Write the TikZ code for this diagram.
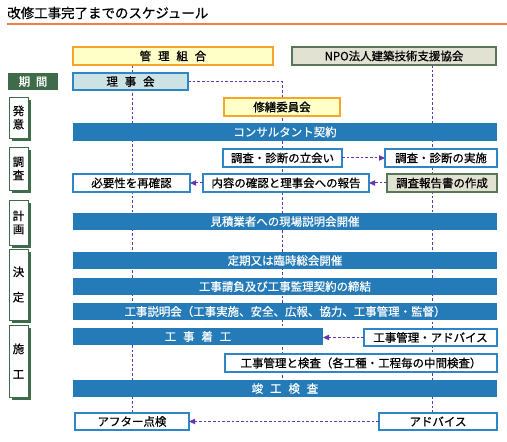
\documentclass[tikz,border=0pt]{standalone}
\usepackage{fontspec}
\setmainfont{Noto Sans CJK JP}
\newfontfamily\medfont[FakeBold=0.6]{Noto Sans CJK JP}
\newfontfamily\hvyfont[FakeBold=1.1]{Noto Sans CJK JP}
\usetikzlibrary{arrows.meta,backgrounds,shadows}
\definecolor{barblue}{RGB}{36,123,184}
\definecolor{edgeblue}{RGB}{47,134,198}
\definecolor{ylwfill}{RGB}{255,255,200}
\definecolor{orgedge}{RGB}{245,166,40}
\definecolor{npofill}{RGB}{226,226,210}
\definecolor{npoedge}{RGB}{88,118,88}
\definecolor{pgreen}{RGB}{62,107,74}
\definecolor{rijifill}{RGB}{205,227,227}
\definecolor{dpurple}{RGB}{100,55,175}
\definecolor{titleline}{RGB}{240,128,64}
\newcommand\bx[7]{\node[#6, minimum width={(#4-#2)*0.75pt}, minimum height={(#5-#3)*0.75pt}] (#1) at ({(#2+#4)/2},{(#3+#5)/2}) {#7};}
\tikzset{
  base/.style={inner sep=0pt, outer sep=0pt, font=\fontsize{8.6}{10}\selectfont\medfont},
  yellowbox/.style={base, draw=orgedge, fill=ylwfill, line width=1pt},
  npobox/.style={base, draw=npoedge, fill=npofill, line width=1pt},
  rijibox/.style={base, draw=edgeblue, fill=rijifill, line width=1pt},
  kikanbox/.style={base, fill=pgreen, text=white},
  bar/.style={base, fill=barblue, text=white},
  wbox/.style={base, draw=edgeblue, fill=white, line width=1pt},
  phase/.style={base, draw=pgreen, fill=white, line width=0.6pt, align=center,
    drop shadow={shadow xshift=2.2pt, shadow yshift=-2.2pt, fill=pgreen, opacity=1}},
  dline/.style={draw=dpurple, dash pattern=on 2pt off 1.5pt, line width=0.75pt},
  arr/.style={dline, -{Triangle[length=4.5pt,width=4pt]}},
}
\begin{document}
\begin{tikzpicture}[x=0.75pt,y=-0.75pt]
\useasboundingbox (0,0) rectangle (507,442);
% title
\node[anchor=west, inner sep=0pt, font=\fontsize{10.1}{12}\selectfont\medfont] (title) at (7,13) {改修工事完了までのスケジュール};
\coordinate (tl1) at (7,24);
\coordinate (tl2) at (507,24);
\draw[titleline, line width=1.5pt] (tl1) -- (tl2);
% headers
\bx{kanri}{73}{47}{273}{65}{yellowbox}{\hvyfont 管\hspace{0.6em}理\hspace{0.6em}組\hspace{0.6em}合}
\bx{npo}{292}{47}{496}{65}{npobox}{NPO法人建築技術支援協会}
\bx{kikan}{8}{73}{58}{90}{kikanbox}{\hvyfont 期\hspace{0.5em}間}
\bx{riji}{73}{73}{188}{90}{rijibox}{\hvyfont 理\hspace{0.6em}事\hspace{0.6em}会}
\bx{iinkai}{224}{98}{340}{116}{yellowbox}{\hvyfont 修繕委員会}
% phase labels
\bx{hatsui}{9}{97}{28}{138}{phase}{発\\意}
\bx{chosa}{9}{147}{28}{190}{phase}{調\\査}
\bx{keikaku}{9}{200}{28}{245}{phase}{計\\画}
\bx{kettei}{9}{249}{28}{320}{phase}{決\\[9pt]定}
\bx{seko}{9}{325}{28}{397}{phase}{施\\[9pt]工}
% bars and boxes
\bx{consul}{73}{123}{497}{141}{bar}{コンサルタント契約}
\bx{tachiai}{223}{149}{342}{167}{wbox}{調査・診断の立会い}
\bx{jisshi}{385}{149}{497}{167}{wbox}{調査・診断の実施}
\bx{hitsuyo}{73}{174}{190}{192}{wbox}{必要性を再確認}
\bx{naiyo}{203}{174}{369}{192}{wbox}{内容の確認と理事会への報告}
\bx{houkoku}{387}{174}{497}{192}{npobox}{調査報告書の作成}
\bx{mitsumori}{73}{213}{497}{230}{bar}{見積業者への現場説明会開催}
\bx{sokai}{73}{252}{497}{269}{bar}{定期又は臨時総会開催}
\bx{ukeoi}{73}{278}{497}{295}{bar}{工事請負及び工事監理契約の締結}
\bx{setsumei}{73}{303}{497}{320}{bar}{工事説明会（工事実施、安全、広報、協力、工事管理・監督）}
\bx{chakko}{73}{328}{323}{345}{bar}{工\hspace{0.6em}事\hspace{0.6em}着\hspace{0.6em}工}
\bx{kanriadv}{364}{329}{497}{346}{wbox}{工事管理・アドバイス}
\bx{kensa}{225}{354}{497}{372}{wbox}{工事管理と検査（各工種・工程毎の中間検査）}
\bx{shunko}{73}{380}{497}{397}{bar}{竣\hspace{0.6em}工\hspace{0.6em}検\hspace{0.6em}査}
\bx{after}{75}{413}{189}{430}{wbox}{アフター点検}
\bx{advice}{379}{413}{497}{430}{wbox}{アドバイス}
\coordinate (npoX) at (432,0);
% vertical dashed lines
\begin{pgfonlayer}{background}
\draw[dline] (kanri.south -| after.north) -- (after.north);
\draw[dline] (npo.south -| npoX) -- (advice.north -| npoX);
\draw[dline] (riji.east) -| (shunko.north -| iinkai.north);
\end{pgfonlayer}
% arrows
\draw[arr] (tachiai.east) -- (jisshi.west);
\draw[arr] (houkoku.west) -- (naiyo.east);
\draw[arr] (naiyo.west) -- (hitsuyo.east);
\draw[arr] (kanriadv.west) -- (kanriadv.west -| chakko.east);
\draw[arr] (advice.west) -- (after.east);
\end{tikzpicture}
\end{document}
